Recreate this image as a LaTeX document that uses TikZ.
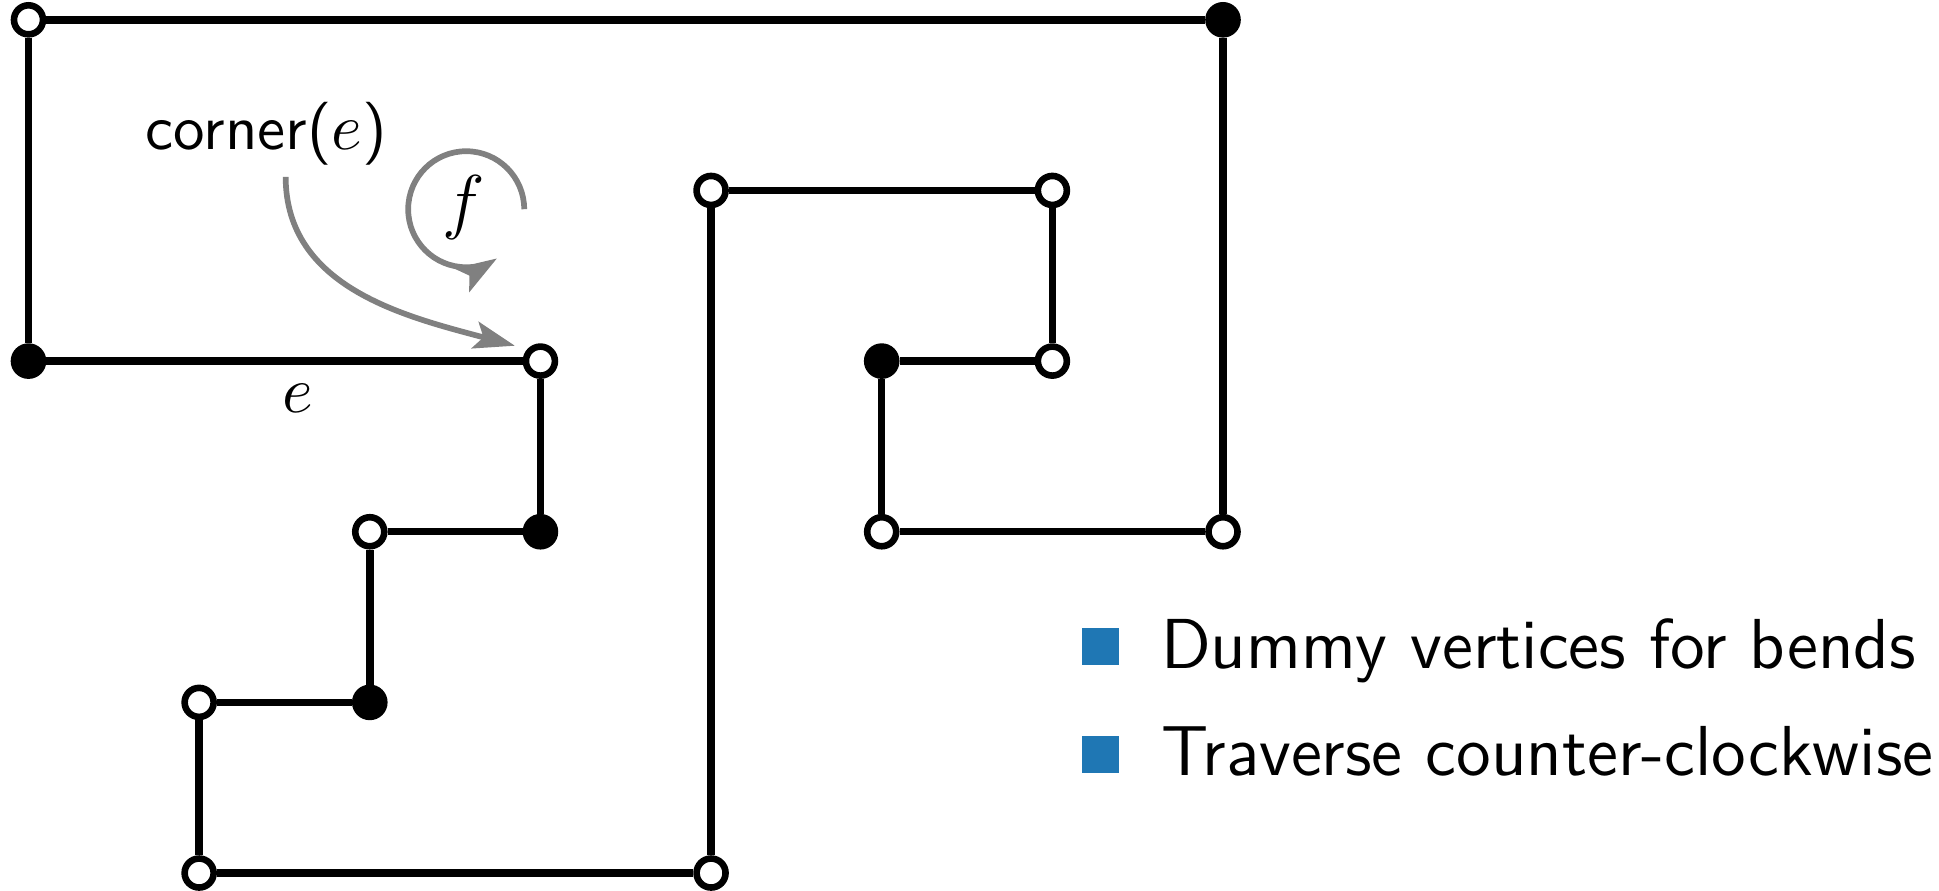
\documentclass[tikz,border=0pt]{standalone}
\usetikzlibrary{arrows.meta}
\definecolor{legblue}{HTML}{1F77B4}
\begin{document}
\begin{tikzpicture}[>={Stealth[length=2.4mm,width=1.6mm,inset=0.5mm]},
    every node/.style={font=\fontsize{10.5}{12}\selectfont\sffamily},
    wv/.style={circle, draw, line width=1.1pt, fill=white, inner sep=0pt, minimum size=0.17cm},
    bv/.style={circle, draw, line width=1.1pt, fill=black, inner sep=0pt, minimum size=0.17cm},
    edge/.style={line width=1.25pt},
    hint/.style={gray, line width=0.95pt, ->}]
        \useasboundingbox (-0.167,-0.100) rectangle (11.196,5.116);

        % outer face boundary
        \node[wv] (a) at (0,5) {};
        \node[bv] (b) at (7,5) {};
        \node[wv] (c) at (7,2) {};
        \node[wv] (d) at (5,2) {};
        \node[bv] (g) at (5,3) {};
        \node[wv] (h) at (6,3) {};
        \node[wv] (i) at (6,4) {};
        \node[wv] (j) at (4,4) {};
        \node[wv] (k) at (4,0) {};
        \node[wv] (l) at (1,0) {};
        \node[wv] (m) at (1,1) {};
        \node[bv] (n) at (2,1) {};
        \node[wv] (o) at (2,2) {};
        \node[bv] (p) at (3,2) {};
        \node[wv] (q) at (3,3) {};
        \node[bv] (r) at (0,3) {};

        \draw[edge] (a) -- (b) -- (c) -- (d) -- (g) -- (h) -- (i) -- (j) -- (k) -- (l)
            -- (m) -- (n) -- (o) -- (p) -- (q) -- (r) -- (a);

        % labels
        \node[anchor=base, inner sep=0pt] (elab) at (1.58,2.70) {$e$};
        \node[anchor=base west, inner sep=0pt] (corner) at (0.68,4.24) {corner($e$)};
        \node[font=\fontsize{11.5}{13}\selectfont] (flab) at (2.55,3.90) {$f$};

        \coordinate (cstart) at (1.507,4.08);
        \coordinate (cend) at (2.85,3.09);
        \draw[hint] (cstart) to[out=-90, in=165] (cend);
        \draw[hint] (2.905,3.89) arc[start angle=0, end angle=302, radius=0.34];

        % legend
        \node[fill=legblue, inner sep=0pt, minimum size=0.215cm] (sq1) at (6.283,1.326) {};
        \node[fill=legblue, inner sep=0pt, minimum size=0.215cm] (sq2) at (6.283,0.696) {};
        \node[anchor=base west, inner sep=0pt, font=\fontsize{11.8}{13}\selectfont\sffamily] (leg1) at (6.63,1.196) {Dummy vertices for bends};
        \node[anchor=base west, inner sep=0pt, font=\fontsize{11.8}{13}\selectfont\sffamily] (leg2) at (6.63,0.572) {Traverse counter-clockwise};
    \end{tikzpicture}
\end{document}
